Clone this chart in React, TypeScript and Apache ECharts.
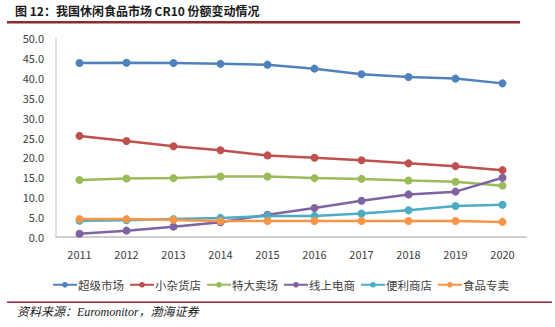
import React, { useEffect, useRef } from "react";
import * as echarts from "echarts";

const years = ["2011", "2012", "2013", "2014", "2015", "2016", "2017", "2018", "2019", "2020"];
const seriesNames = ["超级市场", "小杂货店", "特大卖场", "线上电商", "便利商店", "食品专卖"];
const supermarket = [43.7, 43.8, 43.7, 43.5, 43.3, 42.3, 40.9, 40.2, 39.8, 38.6];
const groceryStore = [25.4, 24.1, 22.8, 21.8, 20.5, 19.9, 19.3, 18.5, 17.8, 16.8];
const hypermarket = [14.3, 14.7, 14.8, 15.2, 15.2, 14.8, 14.6, 14.2, 13.9, 12.9];
const ecommerce = [0.8, 1.6, 2.6, 3.7, 5.6, 7.3, 9.1, 10.7, 11.4, 14.9];
const convenience = [4.1, 4.2, 4.5, 4.8, 5.3, 5.3, 5.9, 6.7, 7.8, 8.1];
const foodSpecialist = [4.5, 4.5, 4.3, 4.0, 4.0, 4.0, 4.0, 4.0, 4.0, 3.8];
const colors = ["#4F81BD", "#C0504D", "#9BBB59", "#8064A2", "#4BACC6", "#F79646"];
const titleText = "图 12：我国休闲食品市场 CR10 份额变动情况";
const sourceText = "资料来源：Euromonitor，渤海证券";

export default function App() {
  const ref = useRef<HTMLDivElement>(null);
  useEffect(() => {
    if (!ref.current) return;
    const chart = echarts.init(ref.current, null, { renderer: "svg" });
    const data = [supermarket, groceryStore, hypermarket, ecommerce, convenience, foodSpecialist];
    chart.setOption({
      animation: false,
      color: colors,
      textStyle: { fontFamily: "'Noto Sans CJK SC', 'Noto Sans', sans-serif" },
      grid: { left: 56, right: 29, top: 38, bottom: 90 },
      legend: {
        left: 47,
        top: 274,
        itemWidth: 24,
        itemHeight: 7,
        itemGap: 5,
        textStyle: { fontSize: 11.5, color: "#404040", padding: [0, 0, 0, -4] },
        data: seriesNames,
      },
      xAxis: {
        type: "category",
        data: years,
        boundaryGap: true,
        axisLine: { lineStyle: { color: "#BFBFBF", width: 1.5 } },
        axisTick: { show: false },
        axisLabel: { fontSize: 11, color: "#404040", margin: 11 },
      },
      yAxis: {
        type: "value",
        min: 0,
        max: 50,
        interval: 5,
        axisLine: { show: true, lineStyle: { color: "#D9D9D9", width: 1.5 } },
        axisTick: { show: false },
        splitLine: { show: false },
        axisLabel: { fontSize: 11, color: "#404040", margin: 12, formatter: (v: number) => v.toFixed(1) },
      },
      series: seriesNames.map((name, i) => ({
        name,
        type: "line",
        data: data[i],
        symbol: "circle",
        symbolSize: 8,
        lineStyle: { width: 2.5 },
        itemStyle: { color: colors[i] },
      })),
      graphic: [
        {
          type: "text",
          left: 15,
          top: 4,
          style: {
            text: titleText,
            font: "bold 12px 'Noto Sans CJK SC', serif",
            fill: "#1a1a1a",
          },
        },
        {
          type: "rect",
          shape: { x: 7, y: 21, width: 513, height: 2.5 },
          style: { fill: "#8E2A2A" },
        },
        {
          type: "rect",
          shape: { x: 7, y: 301.5, width: 545, height: 1.5 },
          style: { fill: "#8E2A2A" },
        },
        {
          type: "text",
          left: 17,
          top: 306,
          style: {
            text: sourceText,
            font: "italic 12px 'Liberation Serif', 'Noto Sans CJK SC', serif",
            fill: "#1a1a1a",
          },
        },
      ],
    });
    return () => chart.dispose();
  }, []);
  return <div ref={ref} style={{ position: "fixed", left: 0, top: 0, width: 555, height: 327, background: "#fff" }} />;
}
